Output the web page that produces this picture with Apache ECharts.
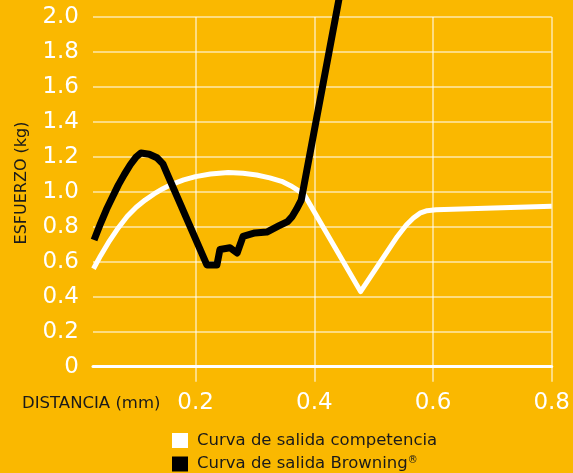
<!DOCTYPE html>
<html>
<head>
<meta charset="utf-8">
<script src="https://cdn.jsdelivr.net/npm/echarts@6/dist/echarts.min.js"></script>
<style>
  html, body { margin: 0; padding: 0; background: #FAB800; }
  #chart { width: 573px; height: 473px; }
</style>
</head>
<body>
<div id="chart"></div>
<script>
// Force vs. travel for two exit curves
const seriesNames = ['Curva de salida competencia', 'Curva de salida Browning®'];
const xTicks = [0.2, 0.4, 0.6, 0.8];

// [distance mm, force kg]
const competencia = [
  [0.028, 0.56], [0.04, 0.635], [0.055, 0.72], [0.07, 0.795], [0.085, 0.86],
  [0.10, 0.912], [0.115, 0.953], [0.13, 0.988], [0.145, 1.018], [0.16, 1.043],
  [0.18, 1.068], [0.20, 1.087], [0.225, 1.102], [0.255, 1.11], [0.28, 1.106],
  [0.303, 1.096], [0.325, 1.08], [0.345, 1.06], [0.36, 1.035], [0.372, 1.01],
  [0.383, 0.985], [0.478, 0.43], [0.54, 0.745], [0.555, 0.81], [0.567, 0.85],
  [0.578, 0.878], [0.59, 0.892], [0.605, 0.897], [0.8, 0.918]
];
const browning = [
  [0.029, 0.725], [0.04, 0.82], [0.05, 0.90], [0.06, 0.97], [0.07, 1.04],
  [0.08, 1.10], [0.09, 1.155], [0.10, 1.20], [0.108, 1.222], [0.122, 1.215],
  [0.135, 1.195], [0.145, 1.16], [0.15, 1.12], [0.219, 0.582], [0.236, 0.582],
  [0.241, 0.67], [0.258, 0.68], [0.27, 0.65], [0.28, 0.745], [0.30, 0.765],
  [0.32, 0.77], [0.34, 0.805], [0.355, 0.83], [0.363, 0.86], [0.37, 0.90],
  [0.378, 0.953], [0.447, 2.2]
];

const FONT = 'DejaVu Sans';
const GRID_COLOR = 'rgba(255,255,255,0.5)';
const INK = '#1a1a1a';

const chart = echarts.init(document.getElementById('chart'));
chart.setOption({
  backgroundColor: '#FAB800',
  animation: false,
  textStyle: { fontFamily: FONT },
  grid: { left: 93, right: 16.3, top: 17, bottom: 106.3, containLabel: false },
  xAxis: {
    type: 'value',
    min: 0.0272,
    max: 0.8,
    axisLine: { show: true, onZero: true, lineStyle: { color: '#ffffff', width: 3 } },
    axisTick: { show: true, customValues: xTicks, length: 15, lineStyle: { color: GRID_COLOR, width: 2 } },
    axisLabel: {
      customValues: xTicks,
      color: '#ffffff', fontSize: 23, fontFamily: FONT, margin: 25,
      formatter: v => v.toFixed(1)
    },
    splitLine: { show: true, lineStyle: { color: GRID_COLOR, width: 2 } }
  },
  yAxis: {
    type: 'value',
    min: 0,
    max: 2.0,
    interval: 0.2,
    axisLine: { show: false },
    axisTick: { show: false },
    axisLabel: {
      color: '#ffffff', fontSize: 23, fontFamily: FONT, margin: 14,
      formatter: v => (v === 0 ? '0' : v.toFixed(1))
    },
    splitLine: { show: true, lineStyle: { color: GRID_COLOR, width: 2 } }
  },
  legend: {
    orient: 'vertical',
    left: 172,
    top: 432,
    height: 80,
    icon: 'rect',
    itemWidth: 16,
    itemHeight: 15,
    itemGap: 6,
    padding: 0,
    data: seriesNames,
    formatter: name => name.replace('®', '{sup|®}'),
    textStyle: {
      color: INK, fontSize: 16.5, fontFamily: FONT, padding: [0, 0, 0, 4],
      rich: { sup: { fontSize: 10, fontFamily: FONT, color: INK, padding: [0, 0, 8, 0] } }
    }
  },
  graphic: [
    {
      type: 'text', x: 22, y: 183, rotation: Math.PI / 2,
      style: { text: 'ESFUERZO (kg)', fill: INK, fontSize: 16, fontFamily: FONT,
               align: 'center', verticalAlign: 'middle' }
    },
    {
      type: 'text', x: 22, y: 404,
      style: { text: 'DISTANCIA (mm)', fill: INK, fontSize: 16.5, fontFamily: FONT,
               align: 'left', verticalAlign: 'middle' }
    }
  ],
  series: [
    {
      name: seriesNames[0],
      type: 'line',
      data: competencia,
      showSymbol: false,
      color: '#ffffff',
      lineStyle: { color: '#ffffff', width: 5, join: 'round', cap: 'butt' },
      z: 2
    },
    {
      name: seriesNames[1],
      type: 'line',
      data: browning,
      showSymbol: false,
      clip: false,
      color: '#000000',
      lineStyle: { color: '#000000', width: 7, join: 'round', cap: 'butt' },
      z: 3
    }
  ]
});
</script>
</body>
</html>
